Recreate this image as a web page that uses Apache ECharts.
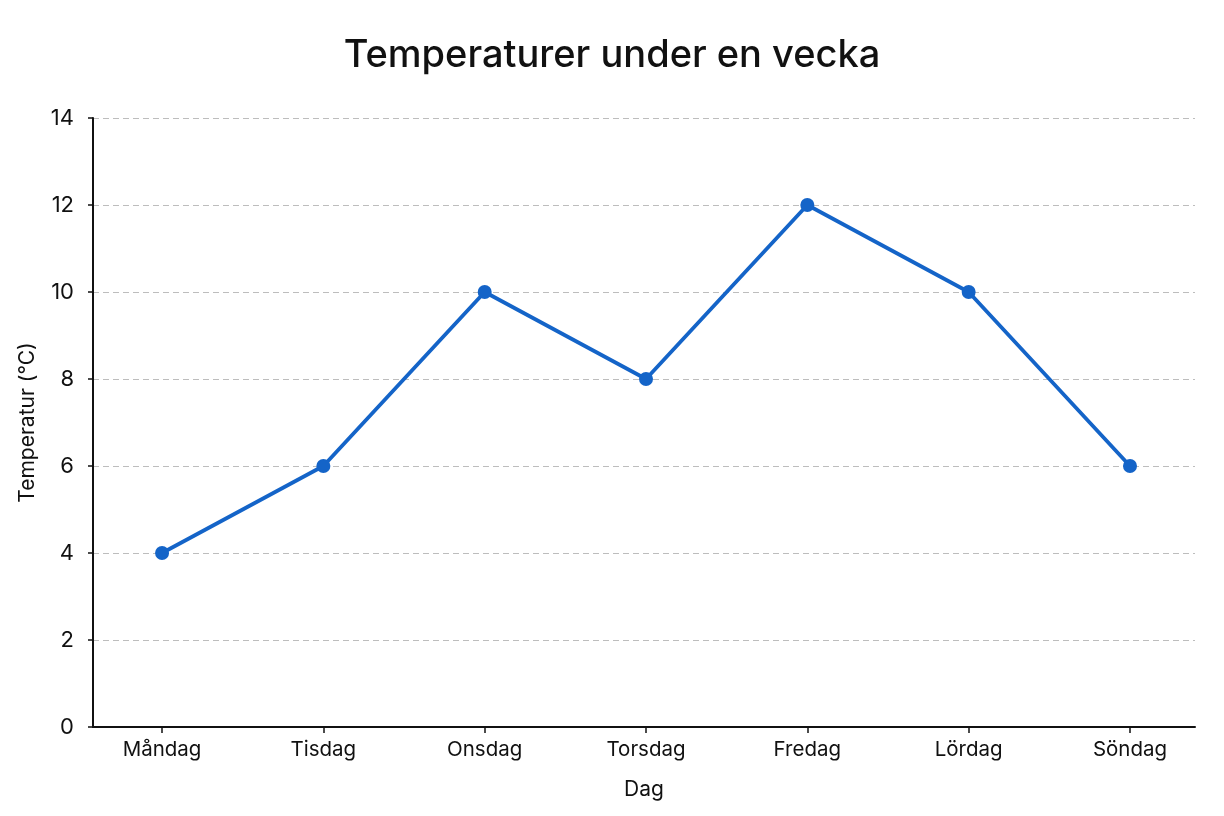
<!DOCTYPE html>
<html>
<head>
<meta charset="utf-8">
<script src="https://cdn.jsdelivr.net/npm/echarts@6/dist/echarts.min.js"></script>
<style>
  html, body { margin: 0; padding: 0; background: #fff; }
  #main { width: 1224px; height: 816px; }
</style>
</head>
<body>
<div id="main"></div>
<script>
var days = ['Måndag', 'Tisdag', 'Onsdag', 'Torsdag', 'Fredag', 'Lördag', 'Söndag'];
var temps = [4, 6, 10, 8, 12, 10, 6];
var yTicks = [0, 2, 4, 6, 8, 10, 12, 14];

var chart = echarts.init(document.getElementById('main'));

// punkterna byggs från index + temperatur
var points = temps.map(function (t, i) { return [i, t]; });
var dayIdx = days.map(function (d, i) { return i; });

var option = {
    backgroundColor: '#ffffff',
    textStyle: { fontFamily: 'Inter' },
    title: {
        text: 'Temperaturer under en vecka',
        left: 'center',
        top: 32,
        textStyle: { fontFamily: 'Inter', fontSize: 38, fontWeight: 500, color: '#111' }
    },
    grid: { left: 93, right: 29, top: 118, bottom: 89 },
    xAxis: {
        type: 'value',
        min: -0.428,
        max: 6.403,
        name: 'Dag',
        nameLocation: 'middle',
        nameGap: 52,
        nameTextStyle: { fontSize: 21, color: '#111' },
        axisLine: { show: true, onZero: false, lineStyle: { color: '#111', width: 2 } },
        axisTick: { show: true, customValues: dayIdx, length: 6, lineStyle: { color: '#111', width: 1.5 } },
        axisLabel: {
            customValues: dayIdx,
            fontSize: 20.5, color: '#111', margin: 12,
            formatter: function (v) { return days[Math.round(v)]; }
        },
        splitLine: { show: false }
    },
    yAxis: {
        type: 'value',
        min: 0,
        max: 14,
        interval: 2,
        name: 'Temperatur (°C)',
        nameLocation: 'middle',
        nameGap: 55,
        nameTextStyle: { fontSize: 21, color: '#111' },
        axisLine: { show: true, onZero: false, lineStyle: { color: '#111', width: 2 } },
        axisTick: { show: true, length: 5, lineStyle: { color: '#111', width: 1.5 } },
        axisLabel: {
            fontSize: 22, color: '#111', margin: 19,
            formatter: function (v) { return yTicks.indexOf(v) >= 0 ? String(v) : ''; }
        },
        splitLine: { show: true, lineStyle: { color: '#bdbdbd', type: [6, 4], width: 1 } }
    },
    series: [{
        type: 'line',
        data: points,
        symbol: 'circle',
        symbolSize: 14,
        lineStyle: { color: '#1464c8', width: 3.8 },
        itemStyle: { color: '#1464c8' },
        animation: false
    }]
};

chart.setOption(option);
</script>
</body>
</html>
